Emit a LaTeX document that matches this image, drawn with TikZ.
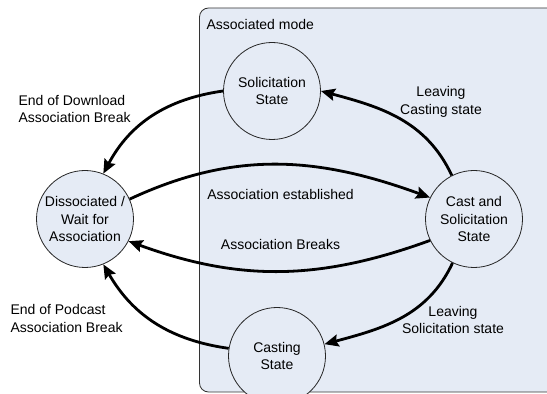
\documentclass[tikz,border=0pt]{standalone}
\usepackage{fontspec}
\setmainfont{Liberation Sans}
\usetikzlibrary{arrows.meta}
\definecolor{modefill}{HTML}{E5EBF5}
\begin{document}
\begin{tikzpicture}[x=1pt,y=1pt,every node/.style={font=\fontsize{14}{17.5}\selectfont,align=center},
	state/.style={circle,draw=black!85,line width=.8pt,fill=modefill,minimum size=97pt,inner sep=0pt},
	trans/.style={line width=2.8pt,-{Stealth[length=14pt,width=12pt,inset=2pt]}}]
	\useasboundingbox(0,0)rectangle(547,394);
	% associated mode box
	\draw[fill=modefill,draw=black!80,line width=.8pt,rounded corners=9pt](199.5,2)rectangle(600,386);
	\node[anchor=west](mode)at(203,370){Associated mode};
	% states
	\node[state](D)at(85,175){Dissociated /\\Wait for\\Association};
	\node[state](S)at(272,303){Solicitation\\State};
	\node[state](CS)at(474,175){Cast and\\Solicitation\\State};
	\node[state](C)at(277,38){Casting\\State};
	% transitions
	\draw[trans](S.180)to[out=188,in=62](D.68);
	\draw[trans](CS.117)to[out=115,in=-15](S.0);
	\draw[trans](D.24)to[out=25,in=160](CS.154);
	\draw[trans](CS.206)to[out=200,in=-20](D.333);
	\draw[trans](CS.244)to[out=245,in=15](C.14);
	\draw[trans](C.171)to[out=172,in=300](D.292);
	% labels
	\node[anchor=west,align=left](l1)at(15,285){End of Download\\Association Break};
	\node(l2)at(441,292){Leaving\\Casting state};
	\node(l3)at(280.5,200){Association established};
	\node(l4)at(280.5,150){Association Breaks};
	\node[anchor=west,align=left](l5)at(7,75.4){End of Podcast\\Association Break};
	\node(l6)at(453,74){Leaving\\Solicitation state};
\end{tikzpicture}
\end{document}
